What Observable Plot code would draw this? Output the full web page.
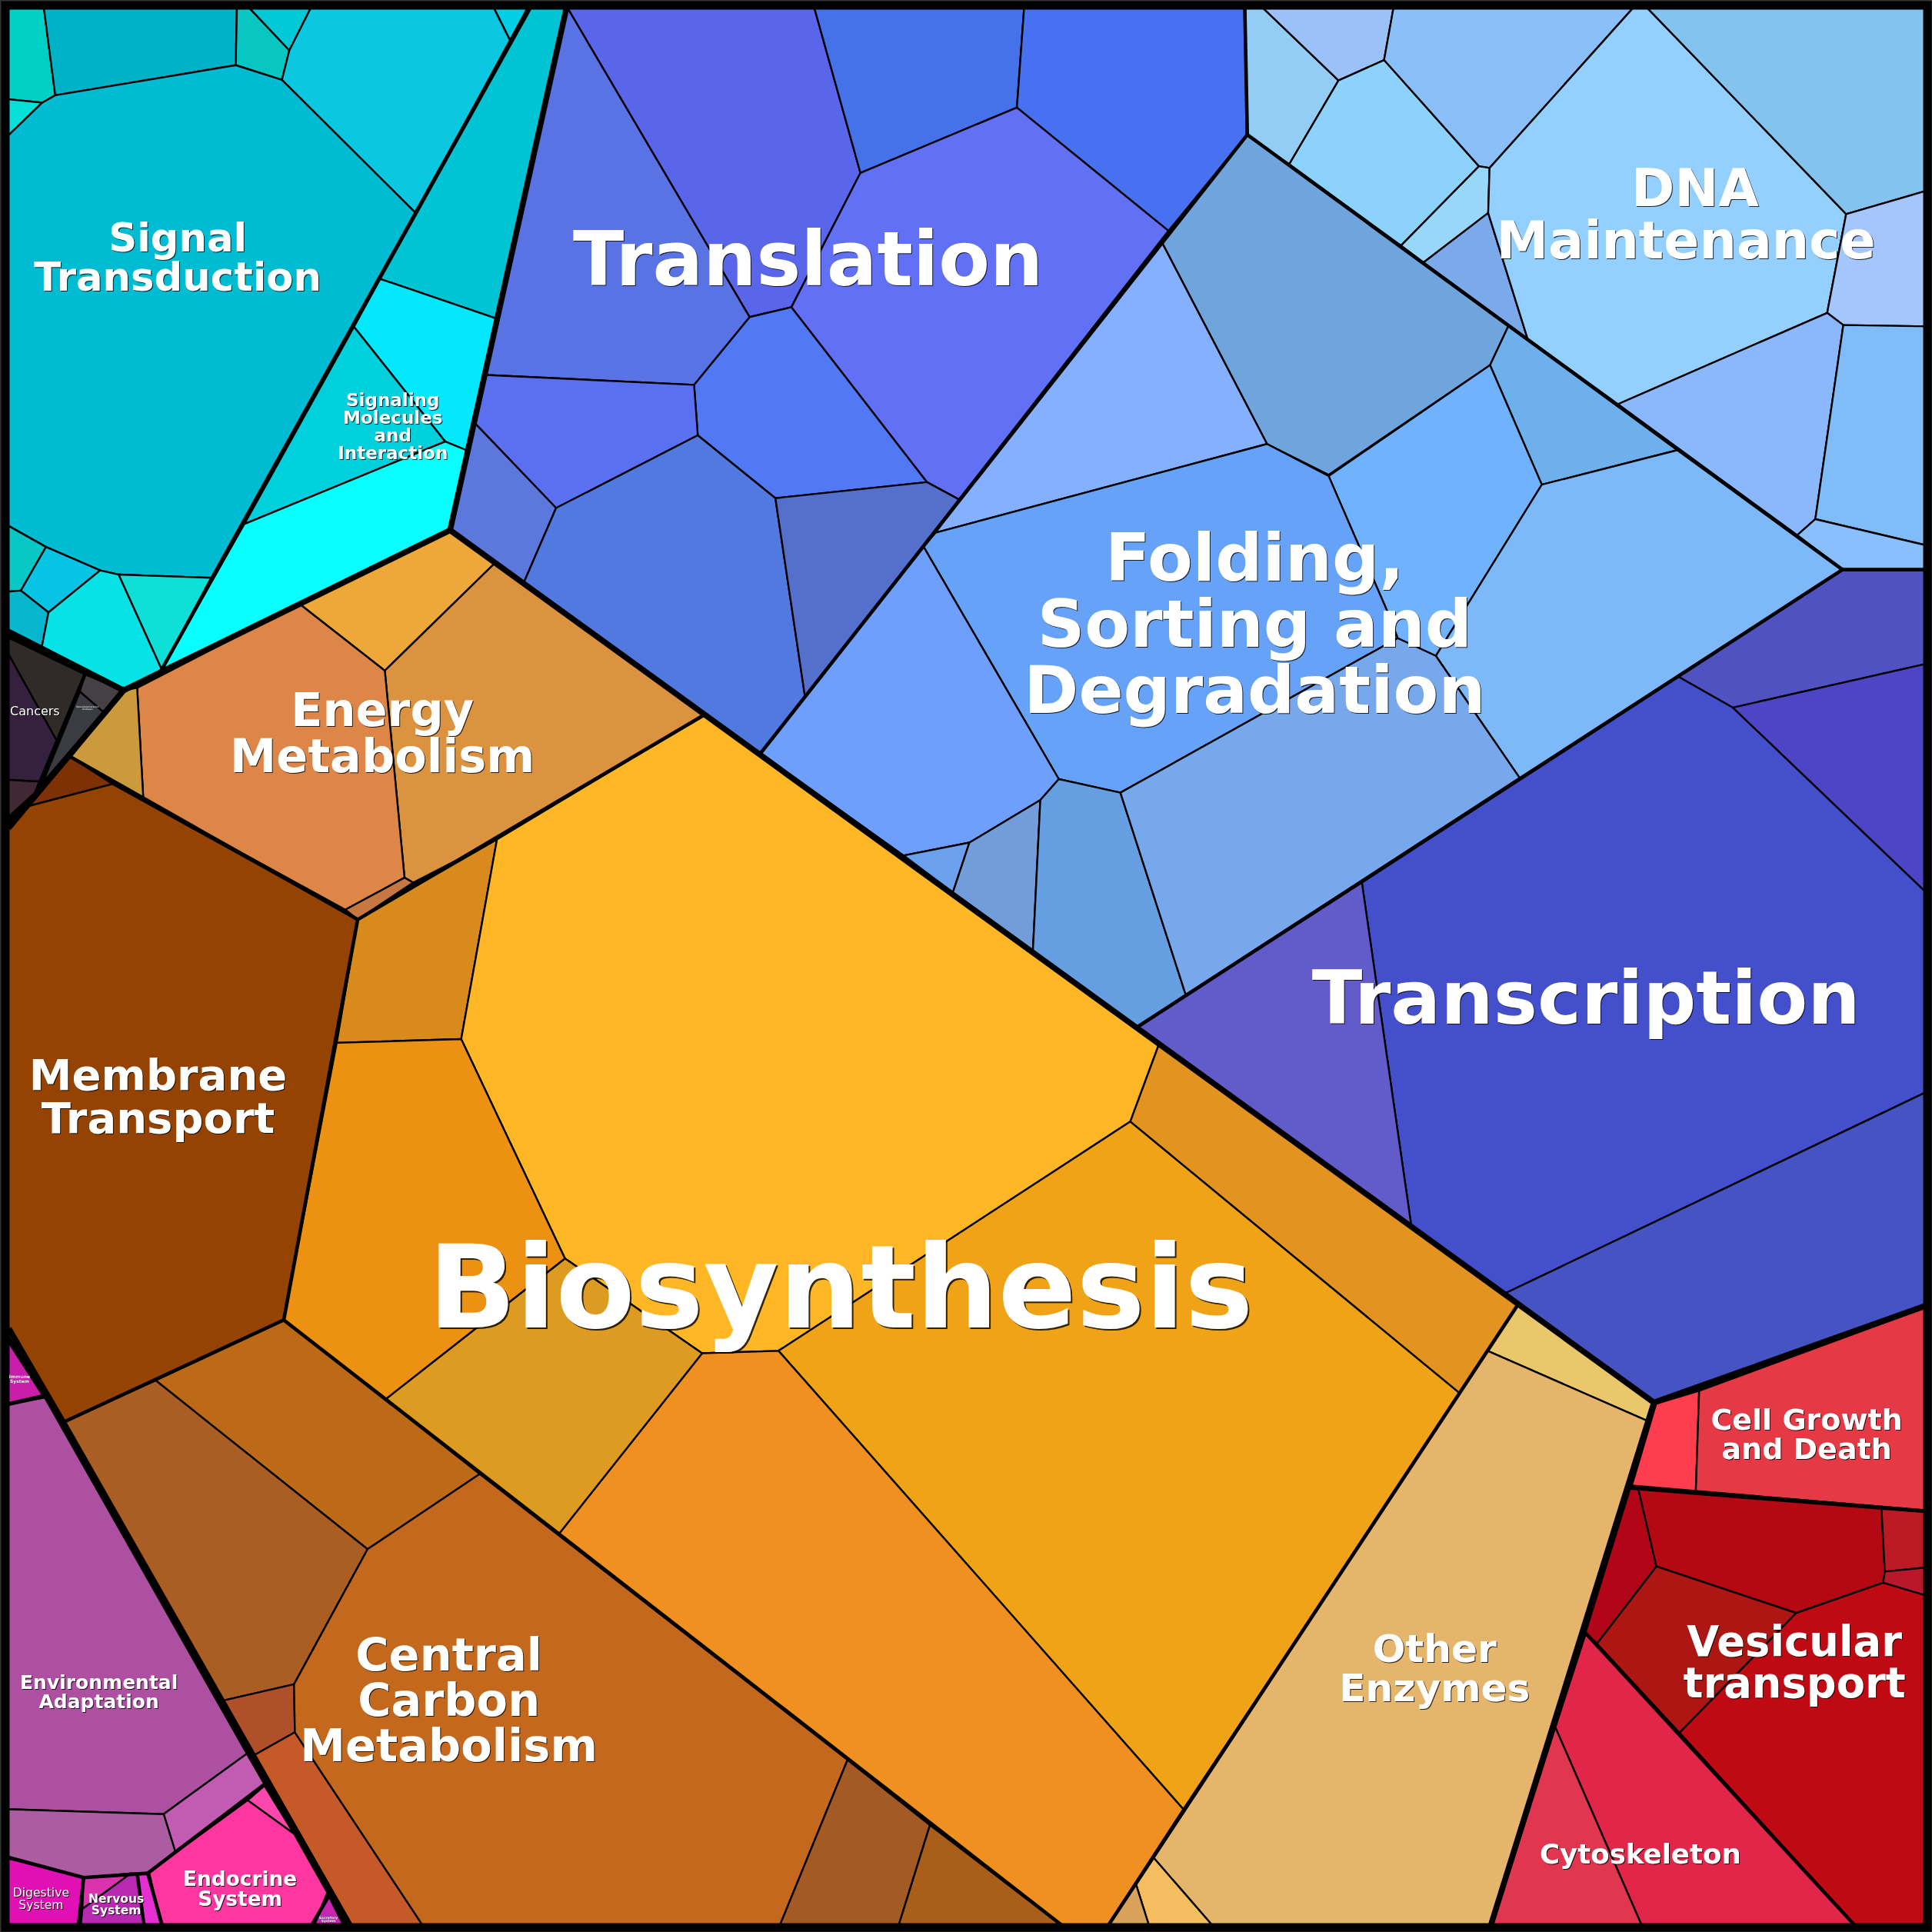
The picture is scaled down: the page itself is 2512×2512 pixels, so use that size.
<!DOCTYPE html>
<html>
<head>
<meta charset="utf-8">
<style>html,body{margin:0;padding:0;background:#000;overflow:hidden}svg{display:block}</style>
<script src="https://cdn.jsdelivr.net/npm/d3@7"></script>
<script src="https://cdn.jsdelivr.net/npm/@observablehq/plot@0.6"></script>
</head>
<body>
<div id="chart"></div>
<script>
// Cell outlines are the data of a Voronoi treemap in a 1568 x 1568 domain.
const signalCells = ["8,8 35,8 44.5,77 34,83 8,80","8,80 34,83 8,112","35,8 192,8 191,52.6 44.5,77","192,8 200,8 234.5,40.6 228.5,64.5 191,52.6","200,8 253,8 234.5,40.6","253,8 399.5,8 414,33 336.5,172 228.5,64.5 234.5,40.6","399.5,8 429,8 414,33","8,112 34,83 44.5,77 191,52.6 228.5,64.5 336.5,172 171,468.6 96,466 81,462.6 37,443.6 8,425","8,425 37,443.6 16.6,479 8,480","37,443.6 81,462.6 39,496.7 16.6,479","8,480 16.6,479 39,496.7 33.7,524.4 8,512","39,496.7 81,462.6 96,466 131,543 100,560 33.7,524.4","96,466 171,468.6 131,543"];
const signalColors = ["#00cfc6","#05e0d8","#00b2c8","#08c6c2","#03c8d6","#0bc8e0","#02cee6","#00bcd2","#08c8c6","#08c4e4","#06b6cc","#06e2e6","#0ee0d8"];
const moleculeCells = ["429,8 459,8 402,258 308,226","308,226 402,258 378,365 361,358 287,265","287,265 361,358 198,425","198,425 361,358 378,365 365,430 131,543"];
const moleculeColors = ["#00c3d4","#03e8fc","#00cfdc","#08ffff"];
const cancerCells = ["8,516 68.7,547 45.8,601 8,526","8,526 45.8,601 32.3,634 8,632.5","8,632.5 32.3,634 29,642 8,665"];
const cancerColors = ["#302a28","#35203d","#402832"];
const neuroCells = ["68.7,547 100,560 83.6,577.6 64.5,561","64.5,561 83.6,577.6 34.3,635"];
const neuroColors = ["#454044","#3a3c42"];
const translationCells = ["459,8 660,8 698,140 642,249 608,257","660,8 831,8 825,87 698,140","831,8 1010,8 1012,109 948,187 825,87","698,140 825,87 948,187 778,405 752,391 642,249","608,257 642,249 752,391 629,404 566,353 563,312","459,8 608,257 563,312 394,304","394,304 563,312 566,353 451,412 384,342","384,342 451,412 425,472 365,430","451,412 566,353 629,404 653,565 617,611 425,472","629,404 752,391 778,405 653,565"];
const translationColors = ["#5a66ea","#4572e8","#4771f0","#6270f5","#5279f5","#5a73e4","#5a70f0","#5c78dd","#5279e0","#5570cc"];
const foldingCells = ["1012,109 1224,264 1209,296 1078,385 1028,360 943,197","943,197 1028,360 759,432 778,405","1224,264 1361,365 1251,393 1209,296","1078,386 1209,296 1251,393 1165,532 1134,517.6 1125.7,496","1251,393 1361,365 1495,462 1233,631 1165,532","749,443 759,432 1028,360 1078,386 1125.7,496 1134,517.6 909,643 859,632","749,443 859,632 844,649 786.5,683.5 733,694 617,611","733,694 786.5,683.5 773,724","786.5,683.5 844,649 838,771 773,724","859,632 909,643 962,807 923,833 838,771 844,649","909,643 1134,517.6 1165,532 1233,631 962,807"];
const foldingColors = ["#70a4dc","#85b0ff","#6eb0ec","#70b2fe","#7db8f8","#66a3f8","#6f9ffc","#6aa0ec","#739cda","#659fe2","#78a8ec"];
const dnaCells = ["1010,8 1022.4,8 1086,65 1046,133 1011.5,109.5","1022.4,8 1131,8 1123,48.4 1086,65","1086,65 1123,48.4 1200,134.6 1136.7,199 1046,133","1131,8 1327,8 1208.6,136 1200,134.6 1123,48.4","1200,134.6 1208.6,136 1207.5,172.5 1155,212.7 1136.7,199","1207.5,172.5 1239.5,274.7 1155,212.7","1327,8 1334.5,8 1498,173.4 1482.6,253.6 1312.8,327.7 1239.5,274.7 1207.5,172.5 1208.6,136","1334.5,8 1561,8 1561,154 1498,173.4","1498,173.4 1561,154 1561,264.6 1495.7,263.5 1482.6,253.6","1482.6,253.6 1495.7,263.5 1473,421 1458.3,434 1312.8,327.7","1495.7,263.5 1561,264.6 1561,442.7 1473,421","1473,421 1561,442.7 1561,462 1495,462 1458.3,434"];
const dnaColors = ["#93cdf6","#9cc1f8","#8dd1fd","#8bbffa","#98d6fa","#7ca9ea","#93d0ff","#85c3ef","#a5c6fd","#8bb8fc","#80bdf8","#89bffc"];
const transcriptionCells = ["1495,462 1561,462 1561,538 1406,574 1362,549","1406,574 1561,538 1561,726","1362,549 1406,574 1561,726 1561,885 1222,1049 1145,994 1105,716","1105,716 1145,994 923,833","1222,1049 1561,885 1561,1060 1342,1138"];
const transcriptionColors = ["#4f52c0","#4c46c6","#4450cb","#615cca","#4554c2"];
const energyCells = ["365,430 401,457 312,544 243,490","401,457 571,580 403,681 335,716 328,712 312,544","243,490 312,544 328,712 280,738 116,648 111,558","100,560 111,558 116,648 57,614","280,738 328,712 335,716 290,746"];
const energyColors = ["#eea83a","#db9340","#dd8647","#cb9a3c","#c77842"];
const membraneCells = ["57,614 91,636 22.5,654","8,670 22.5,654 91,636 290,746 230,1071 51,1154 8,1080"];
const membraneColors = ["#7f3106","#944303"];
const biosynthesisCells = ["290,746 403,681 374,843 273,846","403,681 571,580 940,848 917,910 631.5,1096 569.5,1098 458.2,1021 374,843","940,848 1232,1058 1185,1131 917,910","917,910 1185,1131 960,1468 631.5,1096","569.5,1098 631.5,1096 960,1468 897,1565 864.6,1565 453,1245","458.2,1021 569.5,1098 453,1245 313,1135","273,846 374,843 458.2,1021 313,1135 230,1071"];
const biosynthesisColors = ["#d88b1c","#ffb726","#e39320","#f0a316","#f09020","#dd9b22","#ec9112"];
const carbonCells = ["230,1071 389,1196 298,1257 126,1120","51,1154 126,1120 298,1257 238.3,1366.6 180,1380","180,1380 238.3,1366.6 239,1405.6 206.4,1424","206.4,1424 239,1405.6 344.5,1565 283,1565","298,1257 389,1196 687.5,1428 631.5,1565 344.5,1565 239,1405.6 238.3,1366.6","687.5,1428 754.4,1481 728.2,1565 631.5,1565","754.4,1481 864.6,1565 728.2,1565"];
const carbonColors = ["#bd6a18","#aa5e24","#b0502a","#c55a28","#c4681e","#a45a25","#a95e1a"];
const enzymeCells = ["1232,1058 1342,1138 1337,1153 1207,1096","1207,1096 1337,1153 1210,1561 986,1565 936,1507.5","936,1507.5 986,1565 933,1565 921.7,1529","921.7,1529 933,1565 897,1565"];
const enzymeColors = ["#e9c76a","#e5b56c","#f3bd60","#d9a25a"];
const growthCells = ["1343.8,1139 1378.7,1128.5 1376,1210 1323.8,1206.4","1378.7,1128.5 1561,1060 1561,1225.6 1376,1210"];
const growthColors = ["#fe3d4e","#e53946"];
const vesicularCells = ["1322.6,1208 1329.4,1208.5 1344,1271 1295.8,1333.6 1286.5,1324.6","1329.4,1208.5 1526.7,1224.3 1529.4,1275.2 1528,1284.2 1457.5,1308.8 1344,1271","1526.7,1224.3 1561,1227 1561,1271.7 1529.4,1275.2","1529.4,1275.2 1561,1271.7 1561,1295.3 1528,1284.2","1344,1271 1457.5,1308.8 1362.8,1406 1295.8,1333.6","1457.5,1308.8 1528,1284.2 1561,1295.3 1561,1561 1507.5,1565 1362.8,1406"];
const vesicularColors = ["#b30518","#b40812","#bb1a24","#b8182a","#ae1614","#bf0a14"];
const skeletonCells = ["1286.5,1326 1362.8,1406 1507.5,1565 1333.3,1565 1262,1401.6","1262,1401.6 1333.3,1565 1210,1565"];
const skeletonColors = ["#e2264a","#e03650"];
const adaptationCells = ["8,1139 36,1134 200,1423 132.5,1472 8,1468","132.5,1472 200,1423 214.3,1447.8 141.9,1502.3","8,1468 132.5,1472 141.9,1502.3 119.6,1520 67.6,1523.5 8,1507.5"];
const adaptationColors = ["#ae50a2","#c15cb2","#ac5ca0"];
const organCells = ["8,1085 34.3,1132 8,1139","8,1507.5 67.6,1523.5 63.5,1561 8,1561","67.6,1524 106,1520 66.6,1549","106,1520 110.3,1520 116.5,1561 65,1561 66.6,1549","111.7,1520 119.6,1520 131,1561 117.6,1561","120.7,1519 200.8,1460.7 238.2,1487.8 265.3,1535.6 253.4,1561 131,1561","200.8,1460.7 214.3,1449 238.2,1487.8","266,1537.6 253.4,1561 279.8,1561"];
const organColors = ["#c81eaa","#e010b4","#db32ae","#b928b0","#e52fd0","#fe36a0","#fc48ae","#c925b3"];

// Hierarchy boundaries, as open paths between the cells.
const subgroupBounds = ["429,8 131,543","68.7,547 29,642","1010,8 1012,109 617,611","1012,109 1495,462 1561,462","1495,462 923,833","571,580 290,746 57,614","290,746 230,1071 51,1154","230,1071 860,1561","1232,1058 900,1561","1323.8,1206 1561,1226","1286.5,1325 1503.8,1561","8,1139 36,1133","214.3,1447.8 119.6,1520 67.6,1523.5 8,1507.5","67.6,1523.5 63.5,1561","119.6,1520 131,1561","267,1537.6 253.4,1561"];
const categoryBounds = ["459,8 365,430","8,513 100,560 365,430 1342,1138 1561,1060","8,670 100,560","1342,1138 1210,1561","8,1080 51,1154 283,1561"];

// Labels.
const labelTexts = ["Biosynthesis","Translation","Transcription","Folding,\nSorting and\nDegradation","\u00a0DNA\nMaintenance","Energy\nMetabolism","Membrane\nTransport","Central\nCarbon\nMetabolism","Signal\nTransduction","Signaling\nMolecules\nand\nInteraction","Other\nEnzymes","Vesicular\ntransport","Cell Growth\nand Death","Cytoskeleton","Environmental\nAdaptation","Endocrine\nSystem","Digestive\nSystem","Nervous\nSystem","Cancers","Immune\nSystem","Excretory\nSystem","Neurodegenerative\nDiseases"];
const labelX = [682,655.5,1287,1018,1368,310,128,364,144,318.5,1164,1456,1466,1331,80,194.5,33,94,28,15.6,266.3,70.7];
const labelY = [1047,212,811.5,507.5,174.5,595.5,890.5,1380.5,209.5,346,1354.5,1349.5,1164.5,1505,1373,1533,1541,1545.6,577,1119,1557.4,574.3];
const labelSizes = [150,97.3,96.2,85.7,68,60.5,56,59,51.3,23,50.2,54.3,38,35.6,25,26.4,15.6,15.5,16,6,4.5,3];
const labelWeights = ["bold","bold","bold","bold","bold","bold","bold","bold","bold","bold","bold","bold","bold","bold","bold","bold","normal","bold","normal","bold","bold","normal"];

const cellGroups = [[signalCells,signalColors],[moleculeCells,moleculeColors],[cancerCells,cancerColors],[neuroCells,neuroColors],[translationCells,translationColors],[foldingCells,foldingColors],[dnaCells,dnaColors],[transcriptionCells,transcriptionColors],[energyCells,energyColors],[membraneCells,membraneColors],[biosynthesisCells,biosynthesisColors],[carbonCells,carbonColors],[enzymeCells,enzymeColors],[growthCells,growthColors],[vesicularCells,vesicularColors],[skeletonCells,skeletonColors],[adaptationCells,adaptationColors],[organCells,organColors]];

function vertices(str, id, fill) {
  return str.split(" ").map(p => { const [x, y] = p.split(",").map(Number); return {id, x, y, fill}; });
}
// Vertices on the frame are pushed under it, so that a cell's own stroke does not widen the frame.
const underFrame = v => v <= 8 ? 4 : v >= 1561 ? 1565 : v;
const cellRows = cellGroups.flatMap(([cells, colors], g) => cells.flatMap((c, i) => vertices(c, g + "-" + i, colors[i])))
  .map(d => ({...d, x: underFrame(d.x), y: underFrame(d.y)}));
const subRows = subgroupBounds.flatMap((c, i) => vertices(c, i));
const catRows = categoryBounds.flatMap((c, i) => vertices(c, i));

const labelMarks = labelTexts.map((text, i) => Plot.text([{x: labelX[i], y: labelY[i], text}], {
  x: "x", y: "y", text: "text", fontSize: labelSizes[i], fontWeight: labelWeights[i], fontFamily: "DejaVu Sans",
  textAnchor: "middle", lineAnchor: "middle", lineHeight: 1, fill: "#fff"
}));

const chart = Plot.plot({
  width: 2512, height: 2512,
  margin: 0,
  style: {background: "#000"},
  x: {domain: [0, 1568], axis: null},
  y: {domain: [1568, 0], axis: null},
  color: {type: "identity"},
  marks: [
    Plot.line(cellRows, {x: "x", y: "y", z: "id", fill: "fill", stroke: "#000", strokeWidth: 2.4, curve: "linear-closed", strokeLinejoin: "round"}),
    Plot.line(subRows, {x: "x", y: "y", z: "id", stroke: "#000", strokeWidth: 4.6, strokeLinecap: "square", strokeLinejoin: "round"}),
    Plot.line(catRows, {x: "x", y: "y", z: "id", stroke: "#000", strokeWidth: 7.5, strokeLinecap: "square", strokeLinejoin: "round"}),
    Plot.frame({stroke: "#000", strokeWidth: 24}),
    Plot.frame({stroke: "#333", strokeWidth: 2}),
    ...labelMarks
  ]
});
// A small dark drop shadow behind each label, scaled with its size.
chart.querySelectorAll('g[aria-label="text"]').forEach((g, i) => {
  const off = labelSizes[i] < 10 ? 0.6 : Math.max(1.3, labelSizes[i] * 0.014);
  g.style.filter = `drop-shadow(${off}px ${off}px 0 rgba(0,0,0,0.8))`;
});
document.getElementById("chart").appendChild(chart);
</script>
</body>
</html>
